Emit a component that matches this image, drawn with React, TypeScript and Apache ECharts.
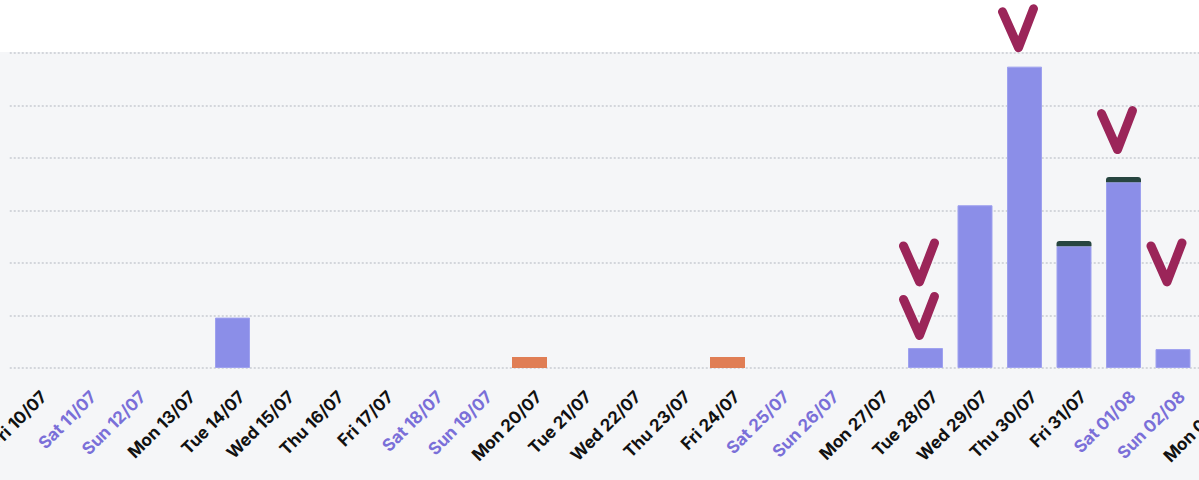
import React, { useEffect, useRef } from "react";
import * as echarts from "echarts";

const days = [
  "Fri 10/07", "Sat 11/07", "Sun 12/07", "Mon 13/07", "Tue 14/07", "Wed 15/07", "Thu 16/07",
  "Fri 17/07", "Sat 18/07", "Sun 19/07", "Mon 20/07", "Tue 21/07", "Wed 22/07", "Thu 23/07",
  "Fri 24/07", "Sat 25/07", "Sun 26/07", "Mon 27/07", "Tue 28/07", "Wed 29/07", "Thu 30/07",
  "Fri 31/07", "Sat 01/08", "Sun 02/08", "Mon 03/08",
];

const primaryValues = [
  null, null, null, null, 4.8, null, null, null, null, null, null, null, null, null,
  null, null, null, null, 1.9, 15.5, 28.7, 11.6, 17.7, 1.8, null,
];
const orangeValues = [
  null, null, null, null, null, null, null, null, null, null, 1.05, null, null, null,
  1.05, null, null, null, null, null, null, null, null, null, null,
];
const darkValues = [
  null, null, null, null, null, null, null, null, null, null, null, null, null, null,
  null, null, null, null, null, null, null, 0.5, 0.5, null, null,
];

// hand-drawn check marks: [day, value at bottom of the mark]
const checkMarks: [string, number][] = [
  ["Tue 28/07", 3.1],
  ["Tue 28/07", 8.2],
  ["Thu 30/07", 30.5],
  ["Sat 01/08", 20.8],
  ["Sun 02/08", 8.2],
];

const yTicks = [0, 5, 10, 15, 20, 25, 30];

export default function App() {
  const ref = useRef<HTMLDivElement>(null);
  useEffect(() => {
    if (!ref.current) return;
    const chart = echarts.init(ref.current, undefined, { renderer: "svg" });
    const isWeekend = (v: string) => v.startsWith("Sat") || v.startsWith("Sun");
    chart.setOption({
      animation: false,
      backgroundColor: "transparent",
      grid: {
        left: 9.75,
        right: 12.75,
        top: 53,
        bottom: 112,
        containLabel: false,
        outerBoundsMode: "none",
      },
      xAxis: {
        type: "category",
        data: days,
        axisLine: { show: false },
        axisTick: { show: false },
        axisLabel: {
          rotate: 45,
          interval: 0,
          margin: 35,
          padding: [0, -13, 0, 0],
          fontFamily: "Inter",
          fontWeight: "bold",
          fontSize: 17,
          color: (v: string) => (isWeekend(v) ? "#7a6fd8" : "#111111"),
        },
      },
      yAxis: {
        type: "value",
        min: yTicks[0],
        max: yTicks[yTicks.length - 1],
        interval: yTicks[1] - yTicks[0],
        axisLabel: { show: false },
        axisLine: { show: false },
        axisTick: { show: false },
        splitLine: { lineStyle: { color: "#d3d6db", type: [2, 2], width: 2 } },
      },
      series: [
        {
          type: "bar",
          stack: "s",
          data: primaryValues,
          barWidth: 35,
          itemStyle: { color: "#8b8ee8", borderColor: "#9ea1ef", borderWidth: 1 },
        },
        {
          type: "bar",
          stack: "s",
          data: orangeValues,
          barWidth: 35,
          itemStyle: { color: "#e07e55" },
        },
        {
          type: "bar",
          stack: "s",
          data: darkValues,
          barWidth: 35,
          itemStyle: { color: "#274540", borderRadius: [3, 3, 0, 0] },
        },
        {
          type: "custom",
          clip: false,
          z: 10,
          data: checkMarks.map(([d, v]) => [days.indexOf(d), v]),
          renderItem: (params: any, api: any) => {
            const p = api.coord([api.value(0), api.value(1)]);
            const x = p[0] - 6;
            const y = p[1];
            return {
              type: "polyline",
              shape: {
                points: [
                  [x - 16, y - 36],
                  [x, y],
                  [x + 15, y - 39],
                ],
              },
              style: {
                stroke: "#9b2559",
                lineWidth: 9,
                lineCap: "round",
                lineJoin: "round",
                fill: null,
              },
            };
          },
        },
      ],
    });
    return () => chart.dispose();
  }, []);
  return (
    <div
      style={{
        position: "fixed",
        left: 0,
        top: 0,
        width: 1199,
        height: 480,
        overflow: "hidden",
        background: "linear-gradient(#ffffff 0px, #ffffff 52px, #f5f6f8 52px, #f5f6f8 100%)",
      }}
    >
      <div ref={ref} style={{ width: 1260, height: 480 }} />
    </div>
  );
}
